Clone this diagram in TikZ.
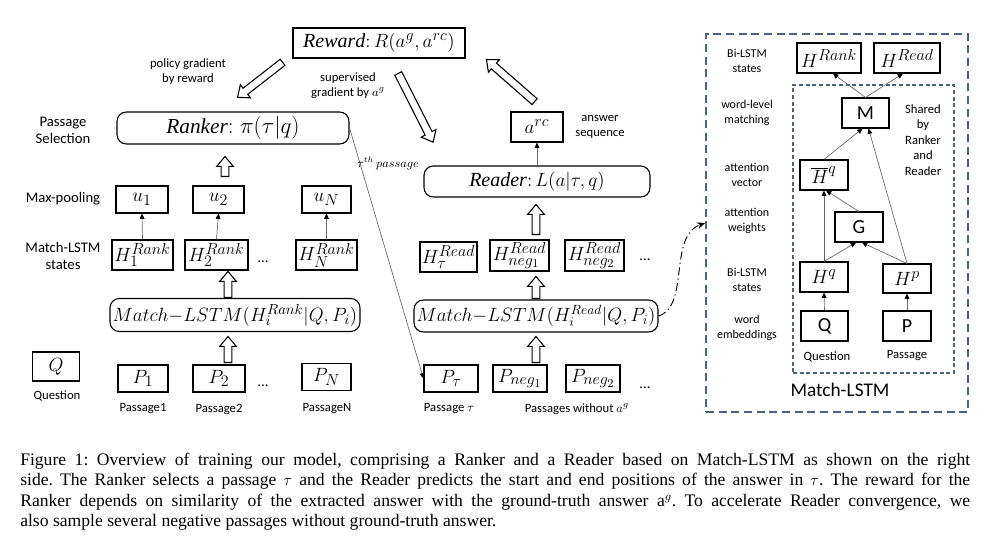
\documentclass[tikz,border=0pt]{standalone}
\usepackage{fontspec}
\setmainfont{Liberation Serif}
\newfontfamily\carl{Carlito}
\usetikzlibrary{arrows.meta,shapes.arrows,calc}
\definecolor{dblue}{HTML}{4A6282}
\DeclareMathSizes{14}{14}{11}{8.5}
\DeclareMathSizes{15}{15}{11.5}{9}
\DeclareMathSizes{16}{16}{12}{9.5}
\begin{document}
\begin{tikzpicture}[x=0.75pt,y=-0.75pt,
  sz/.style 2 args={minimum width=#1*0.75pt, minimum height=#2*0.75pt},
  box/.style={draw=black, line width=0.8pt, inner sep=0pt, font=\fontsize{15}{17}\selectfont},
  rbox/.style={box, rounded corners=7pt},
  sbox/.style={draw=black, line width=0.8pt, inner sep=0pt, font=\carl\fontsize{15}{17}\selectfont},
  lbl/.style={inner sep=0pt, align=center, font=\carl\fontsize{9.5}{11.25}\selectfont},
  blbl/.style={inner sep=0pt, align=center, font=\carl\fontsize{11}{12.75}\selectfont},
  plbl/.style={inner sep=0pt, align=center, font=\carl\fontsize{9}{11.25}\selectfont},
  dots/.style={inner sep=0pt, font=\carl\fontsize{11}{12}\selectfont},
  thinarr/.style={draw=gray!80!black, line width=0.5pt, -{Triangle[length=4pt,width=3.6pt,color=black]}},
  harr/.style={single arrow, draw=black, line width=0.8pt, fill=white, inner xsep=0pt, inner ysep=2.5pt,
    single arrow head extend=3.3pt, single arrow tip angle=80, minimum width=0pt, anchor=tail},
  harrow/.style 2 args={harr, rotate=#1, minimum height=#2*0.75pt},
  dashdot/.style={draw=black, line width=0.7pt, dash pattern=on 6pt off 2.5pt on 1pt off 2.5pt,
    -{Stealth[length=6pt,width=5pt]}},
]
\useasboundingbox (0,0) rectangle (1004,547);

% ---------- top ----------
\node[box, sz={172}{30}, font=\fontsize{15}{17}\selectfont] (reward) at (379,43) {$\mathit{Reward}{:}\,R(a^{g},a^{rc})$};
\node[lbl] (lpg) at (188,72) {policy gradient\\by reward};
\node[lbl] (lsg) at (348,86) {supervised\\gradient by $a^{g}$};
\node[harrow={217.9}{57}] (hpg) at (283,62) {};
\node[harrow={-63.1}{77}] (hsg) at (398,73) {};
\node[harrow={138.8}{64}] (hrw) at (535,102) {};

% ---------- ranker side ----------
\node[blbl] (lps) at (63,130) {Passage\\Selection};
\node[rbox, sz={232}{32}, font=\fontsize{16}{18}\selectfont] (ranker) at (233,128) {$\mathit{Ranker}{:}\;\pi(\tau|q)$};
\node[blbl] (lmp) at (63,199) {Max-pooling};
\node[blbl] (lms) at (63,256) {Match-LSTM\\states};
\node[box, sz={52}{27}] (u1) at (142,199.5) {$u_1$};
\node[box, sz={51}{27}] (u2) at (218.5,199.5) {$u_2$};
\node[box, sz={49}{27}] (uN) at (326.5,199.5) {$u_N$};
\node[box, sz={61}{30}] (h1) at (142.5,255) {$H_1^{Rank}$};
\node[box, sz={63}{30}] (h2) at (216.5,255) {$H_2^{Rank}$};
\node[box, sz={61}{30}] (hN) at (326.5,255) {$H_N^{Rank}$};
\node[dots] (d1) at (263,262) {...};
\draw[thinarr] (h1.north) -- (u1.south);
\draw[thinarr] (h2.north) -- (u2.south);
\draw[thinarr] (hN.north) -- (uN.south);
\node[rbox, sz={250}{33}, font=\fontsize{14}{16}\selectfont] (mlr) at (235,315) {$Match{-}LSTM(H_i^{Rank}|Q,P_i)$};
\node[harrow={90}{20}] (ha1) at (225,177) {};
\node[harrow={90}{26}] (ha2) at (228,298) {};
\node[harrow={90}{26}] (ha3) at (228,363) {};

\node[box, sz={47}{29}] (q) at (56,366.5) {$Q$};
\node[lbl] (lq) at (57,396) {Question};
\node[box, sz={50}{27}] (p1) at (143,378.5) {$P_1$};
\node[box, sz={52}{27}] (p2) at (219,378.5) {$P_2$};
\node[dots] (d2) at (263,386) {...};
\node[box, sz={49}{27}] (pN) at (326.5,377) {$P_N$};
\node[lbl] (lp1) at (143,409) {Passage1};
\node[lbl] (lp2) at (219,409) {Passage2};
\node[lbl] (lpN) at (327,409) {PassageN};

% ---------- reader side ----------
\node[box, sz={52}{30}] (arc) at (537,127) {$a^{rc}$};
\node[lbl] (las) at (600,127) {answer\\sequence};
\node[rbox, sz={226}{31}, font=\fontsize{15}{17}\selectfont] (reader) at (537,181.5) {$\mathit{Reader}{:}\,L(a|\tau,q)$};
\draw[thinarr] (reader.north) -- (arc.south);
\node[box, sz={57}{30}] (ht) at (448.5,257) {$H_\tau^{Read}$};
\node[box, sz={59}{31}] (hn1) at (519.5,255.5) {$H_{neg_1}^{Read}$};
\node[box, sz={59}{31}] (hn2) at (594.5,255.5) {$H_{neg_2}^{Read}$};
\node[dots] (d3) at (645,260) {...};
\node[rbox, sz={244}{32}, font=\fontsize{13.6}{16}\selectfont] (mlread) at (536,316) {$Match{-}LSTM(H_i^{Read}|Q,P_i)$};
\node[harrow={90}{30}] (hb1) at (536,235) {};
\node[harrow={90}{22}] (hb2) at (536,299) {};
\node[harrow={90}{26}] (hb3) at (536,363) {};
\node[box, sz={54}{27}] (pt) at (451,378.5) {$P_\tau$};
\node[box, sz={54}{27}] (pn1) at (520,378.5) {$P_{neg_1}$};
\node[box, sz={54}{27}] (pn2) at (593,378.5) {$P_{neg_2}$};
\node[dots] (d4) at (645,388) {...};
\node[lbl] (lpt) at (449,409) {Passage $\tau$};
\node[lbl] (lpw) at (577,409) {Passages without $a^{g}$};

\draw[thinarr] (ranker.east) -- (pt.west);
\node[inner sep=0pt, font=\fontsize{9}{10}\selectfont] (ltp) at (388,163) {$\tau^{th}\,passage$};

% ---------- Match-LSTM panel ----------
\node[draw=dblue, line width=1.3pt, dash pattern=on 6pt off 3.5pt, sz={262}{378}, inner sep=0pt] (outer) at (837,223) {};
\node[draw=dblue, line width=0.8pt, dash pattern=on 3pt off 2pt, sz={161}{288}, inner sep=0pt] (inner) at (873.5,229) {};
\draw[dashdot] (mlread.east) .. controls (690,306) and (668,236) .. (outer.west);

\node[plbl] (r1) at (747,60.5) {Bi-LSTM\\states};
\node[plbl] (r2) at (747,112.5) {word-level\\matching};
\node[plbl] (r3) at (747,175) {attention\\vector};
\node[plbl] (r4) at (747,220.5) {attention\\weights};
\node[plbl] (r5) at (747,280) {Bi-LSTM\\states};
\node[plbl] (r6) at (747,328) {word\\embeddings};
\node[inner sep=0pt, align=center, font=\carl\fontsize{9.5}{11.6}\selectfont] (shr) at (923,140) {Shared\\by\\Ranker\\and\\Reader};

\node[box, sz={64}{30}] (HRank) at (829,58) {$H^{Rank}$};
\node[box, sz={66}{30}] (HRead) at (907,58) {$H^{Read}$};
\node[sbox, sz={47}{30}] (M) at (865.5,113) {M};
\node[box, sz={48}{30}] (Hbar) at (824,175) {$\overline{H}^{q}$};
\node[sbox, sz={48}{30}] (G) at (859,227) {G};
\node[box, sz={48}{30}] (Hq) at (824,277) {$H^{q}$};
\node[box, sz={48}{29}] (Hp) at (907,278.5) {$H^{p}$};
\node[sbox, sz={47}{30}] (Q2) at (824.5,326) {Q};
\node[sbox, sz={48}{30}] (P2) at (907,326) {P};
\node[lbl] (lq2) at (827,357) {Question};
\node[lbl] (lp2r) at (907,356) {Passage};
\node[inner sep=0pt, font=\carl\fontsize{14.5}{16}\selectfont] (lml) at (840,390) {Match-LSTM};

\draw[thinarr] (M.north) -- ($(HRank.south)+(4,0)$);
\draw[thinarr] (M.north) -- ($(HRead.south)+(-4,0)$);
\draw[thinarr] (Hbar.north) -- ($(M.south)+(-3,0)$);
\draw[thinarr] (Hp.north) -- ($(M.south)+(3,0)$);
\draw[thinarr] (Hq.north) -- (Hbar.south);
\draw[thinarr] (G.north) -- ($(Hbar.south)+(2,0)$);
\draw[thinarr] (Hq.north) -- ($(G.south)+(-3,0)$);
\draw[thinarr] (Hp.north) -- ($(G.south)+(3,0)$);
\draw[thinarr] (Q2.north) -- (Hq.south);
\draw[thinarr] (P2.north) -- (Hp.south);

% ---------- caption ----------
\node[anchor=north west, inner sep=0pt, text width=712.5pt, align=justify,
  font=\fontsize{13.2}{15.4}\selectfont\frenchspacing] (cap) at (20,452.5) {Figure 1: Overview of training our model, comprising a Ranker and a Reader based on Match-LSTM as shown on the right\linebreak
side. The Ranker selects a passage $\tau$ and the Reader predicts the start and end positions of the answer in $\tau$. The reward for the\linebreak
Ranker depends on similarity of the extracted answer with the ground-truth answer a$^{g}$. To accelerate Reader convergence, we\linebreak
also sample several negative passages without ground-truth answer.};
\end{tikzpicture}
\end{document}
